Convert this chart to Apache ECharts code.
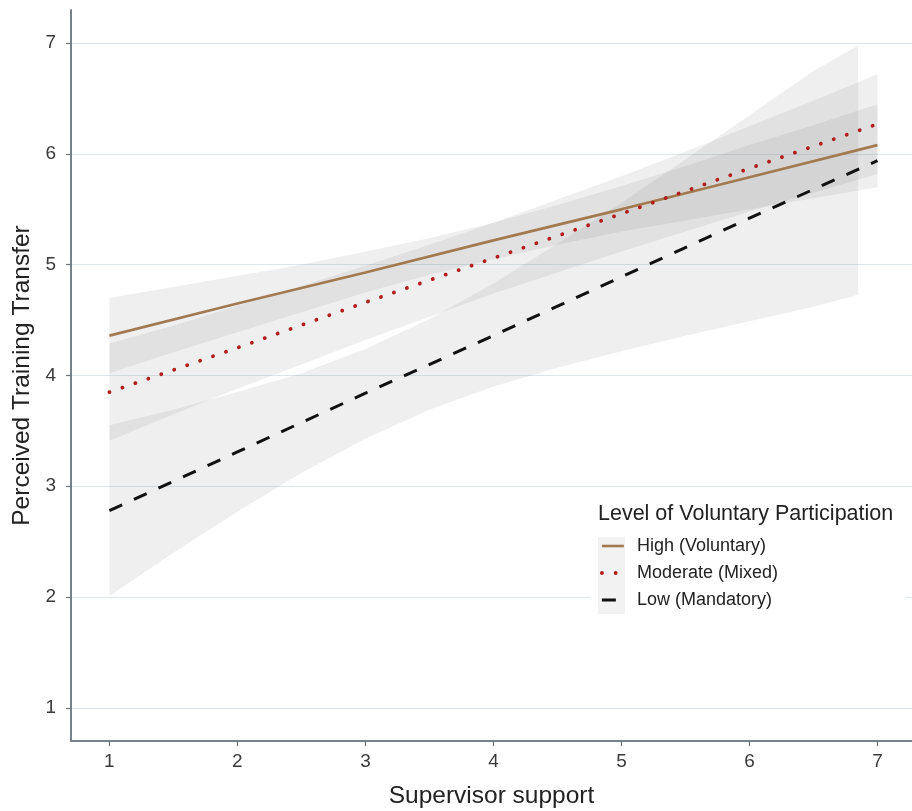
<!DOCTYPE html>
<html>
<head>
<meta charset="utf-8">
<title>Perceived Training Transfer</title>
<script src="https://cdn.jsdelivr.net/npm/echarts@6/dist/echarts.min.js"></script>
<style>
  html, body { margin: 0; padding: 0; background: #fff; }
  #chart { width: 912px; height: 811px; }
</style>
</head>
<body>
<div id="chart"></div>
<script>
// values
var ticks = [1, 2, 3, 4, 5, 6, 7];
var fitX = [1, 2, 3, 4, 5, 6, 7];
var highFit = [4.36, 4.65, 4.93, 5.22, 5.50, 5.79, 6.08];
var moderateFit = [3.85, 4.25, 4.66, 5.06, 5.46, 5.87, 6.27];
var lowFit = [2.78, 3.31, 3.84, 4.36, 4.89, 5.42, 5.94];

// confidence bands
var bandX = [1, 1.5, 2, 2.5, 3, 3.5, 4, 4.5, 5, 5.5, 6, 6.5, 7];
var highLower = [4.02, 4.21, 4.39, 4.57, 4.75, 4.91, 5.05, 5.18, 5.30, 5.40, 5.50, 5.60, 5.70];
var highUpper = [4.70, 4.80, 4.90, 5.00, 5.12, 5.24, 5.38, 5.54, 5.71, 5.89, 6.08, 6.26, 6.45];
var moderateLower = [3.41, 3.65, 3.88, 4.10, 4.32, 4.53, 4.74, 4.93, 5.12, 5.30, 5.48, 5.65, 5.82];
var moderateUpper = [4.29, 4.45, 4.63, 4.81, 4.99, 5.18, 5.38, 5.59, 5.80, 6.02, 6.25, 6.48, 6.72];
var lowBandX = [1, 1.5, 2, 2.5, 3, 3.5, 4, 4.5, 5, 5.5, 6, 6.5, 6.85];
var lowLower = [2.01, 2.40, 2.77, 3.12, 3.43, 3.69, 3.90, 4.07, 4.22, 4.36, 4.49, 4.62, 4.73];
var lowUpper = [3.55, 3.69, 3.85, 4.02, 4.24, 4.51, 4.83, 5.19, 5.56, 5.95, 6.35, 6.75, 6.98];

var names = ['High (Voluntary)', 'Moderate (Mixed)', 'Low (Mandatory)'];

function pairs(xs, ys) {
  return xs.map(function (x, i) { return [x, ys[i]]; });
}

// band polygon drawn through the axes
function band(xs, lo, hi) {
  return {
    type: 'custom',
    silent: true,
    z: 1,
    clip: true,
    data: [[xs[0], lo[0]]],
    renderItem: function (params, api) {
      var pts = [];
      for (var i = 0; i < xs.length; i++) pts.push(api.coord([xs[i], hi[i]]));
      for (var j = xs.length - 1; j >= 0; j--) pts.push(api.coord([xs[j], lo[j]]));
      return {
        type: 'polygon',
        shape: { points: pts },
        style: { fill: 'rgba(128,128,128,0.13)', stroke: null }
      };
    }
  };
}

var font = 'Liberation Sans';
var axisColor = '#77818a';
var tickStyle = { color: '#6c747a', width: 1.2 };
var labelStyle = { fontFamily: font, fontSize: 19, color: '#3a3a3a' };

var chart = echarts.init(document.getElementById('chart'));
chart.setOption({
  backgroundColor: '#fff',
  animation: false,
  title: {
    text: 'Level of Voluntary Participation',
    left: 598,
    top: 503,
    padding: 0,
    textStyle: { fontFamily: font, fontSize: 21.5, fontWeight: 'normal', color: '#222' }
  },
  graphic: [
    { type: 'rect', z: 3, shape: { x: 590, y: 496, width: 316, height: 122 }, style: { fill: '#fff' } },
    { type: 'rect', z: 3, shape: { x: 598, y: 537, width: 27, height: 77 }, style: { fill: '#f2f2f2' } }
  ],
  legend: {
    data: names,
    orient: 'vertical',
    left: 600,
    top: 537,
    itemWidth: 22,
    itemHeight: 14,
    itemGap: 9,
    padding: 0,
    itemStyle: { opacity: 0 },
    lineStyle: { width: 'inherit' },
    textStyle: { fontFamily: font, fontSize: 18, color: '#222', padding: [0, 0, 0, 8] }
  },
  grid: { left: 71, right: 0, top: 10, bottom: 70, outerBoundsMode: 'none', containLabel: false },
  xAxis: {
    type: 'value',
    min: 0.7,
    max: 7.27,
    name: 'Supervisor support',
    nameLocation: 'middle',
    nameGap: 43,
    nameTextStyle: { fontFamily: font, fontSize: 24.5, color: '#222' },
    axisLine: { lineStyle: { color: axisColor, width: 2 } },
    axisTick: { show: true, length: 5, lineStyle: tickStyle, customValues: ticks },
    axisLabel: Object.assign({ customValues: ticks, margin: 11 }, labelStyle),
    splitLine: { show: false }
  },
  yAxis: {
    type: 'value',
    min: 0.7,
    max: 7.3,
    name: 'Perceived Training Transfer',
    nameLocation: 'middle',
    nameGap: 32,
    nameRotate: 90,
    nameTextStyle: { fontFamily: font, fontSize: 24.5, color: '#222' },
    axisLine: { show: true, lineStyle: { color: axisColor, width: 2 } },
    axisTick: { show: true, length: 5, lineStyle: tickStyle, customValues: ticks },
    axisLabel: Object.assign({ customValues: ticks, margin: 15 }, labelStyle),
    splitLine: { show: true, lineStyle: { color: '#dde6eb', width: 1.2 } }
  },
  series: [
    band(bandX, highLower, highUpper),
    band(bandX, moderateLower, moderateUpper),
    band(lowBandX, lowLower, lowUpper),
    {
      name: names[0],
      type: 'line',
      data: pairs(fitX, highFit),
      symbol: 'none',
      z: 5,
      color: '#a37a50',
      lineStyle: { color: '#a37a50', width: 2.6 }
    },
    {
      name: names[1],
      type: 'line',
      data: pairs(fitX, moderateFit),
      symbol: 'none',
      z: 5,
      color: '#b21d1d',
      lineStyle: { color: '#b21d1d', width: 3.8, type: [0.1, 13.6], cap: 'round' }
    },
    {
      name: names[2],
      type: 'line',
      data: pairs(fitX, lowFit),
      symbol: 'none',
      z: 5,
      color: '#111',
      lineStyle: { color: '#111', width: 3, type: [14, 13] }
    }
  ]
});
</script>
</body>
</html>
